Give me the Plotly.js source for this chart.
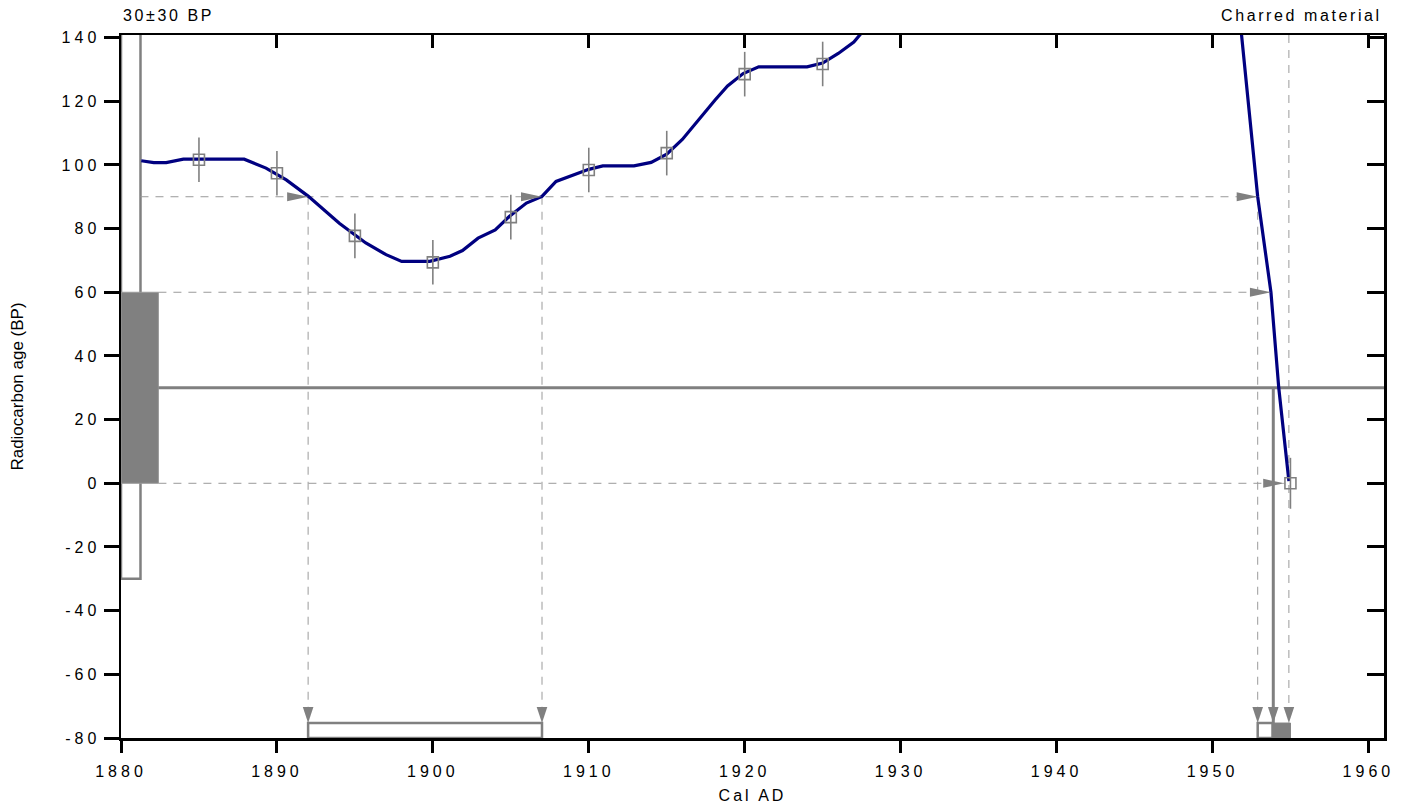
<!DOCTYPE html>
<html>
<head>
<meta charset="utf-8">
<script src="https://cdn.plot.ly/plotly-3.0.1.min.js"></script>
<style>
  html, body { margin: 0; padding: 0; background: #fff; }
  #chart { width: 1421px; height: 806px; }
  .xtick text, .ytick text { letter-spacing: 4px !important; }
  .xtitle { letter-spacing: 3px; }
  .annotation-text { letter-spacing: 2.6px; }
</style>
</head>
<body>
<div id="chart"></div>
<script>
// ---------- data ----------
const xTickVals = [1880, 1890, 1900, 1910, 1920, 1930, 1940, 1950, 1960];
const xTickText = ['1880', '1890', '1900', '1910', '1920', '1930', '1940', '1950', '1960'];
const yTickVals = [-80, -60, -40, -20, 0, 20, 40, 60, 80, 100, 120, 140];
const yTickText = ['-80', '-60', '-40', '-20', '0', '20', '40', '60', '80', '100', '120', '140'];

// calibration curve (Cal AD, radiocarbon BP); null = curve leaves the plotted range
const curveYear = [1881.3, 1882.1, 1882.9, 1884.0, 1887.9, 1889.3, 1890.6, 1892.0, 1894.0, 1895.7,
  1897.0, 1898.0, 1899.8, 1901.1, 1901.9, 1902.9, 1904.0, 1904.9, 1906.0, 1907.0, 1907.9, 1909.0,
  1910.0, 1910.9, 1912.9, 1914.0, 1915.0, 1916.0, 1917.1, 1918.1, 1918.9, 1919.9, 1920.9, 1924.0,
  1925.0, 1926.0, 1927.0, 1927.5, null, 1951.85, 1952.9, 1953.75, 1954.25, 1954.9];
const curveBP = [101.3, 100.7, 100.7, 101.8, 101.8, 99.0, 95.3, 90.2, 81.7, 75.5,
  71.8, 69.7, 69.7, 71.3, 73.1, 77.0, 79.6, 83.8, 88.0, 90.1, 94.8, 96.9,
  98.6, 99.7, 99.7, 100.8, 103.4, 108.0, 114.6, 120.4, 124.8, 128.7, 130.8, 130.8,
  132.0, 135.0, 138.6, 141.5, null, 141.5, 90.0, 60.0, 30.0, 0.7];

// raw calibration data points with 1-sigma errors
const sampleYear = [1885, 1890, 1895, 1900, 1905, 1910, 1915, 1920, 1925, 1955];
const sampleBP   = [101.6, 97.4, 77.7, 69.4, 83.6, 98.4, 103.7, 128.5, 131.7, 0];
const sampleErr  = [7, 7, 7, 7, 7, 7, 7, 7, 7, 8];

// measurement: 30 ± 30 BP
const measMean = 30;
const measSigma = 30;
const measOneSigma = [measMean - measSigma, measMean + measSigma];   // filled bar
const measTwoSigmaOpen = [-30, 150];                                  // open bar
const levelBP = [90, 60, 0];
const levelCross = [[1892, 1907, 1952.9], [1953.75], [1954.6]];
const meanCrossYear = 1953.9;
const sampleDateYear = 1954.9;
const openRanges = [[1892, 1907], [1952.9, 1953.85]];
const filledRanges = [[1953.85, 1955.0]];
const rangeBarTop = -75.3;

// ---------- layout helpers ----------
const X0 = 1880, X1 = 1961, Y0 = -80, Y1 = 140.8;
const GRAY = '#808080', DASHGRAY = '#9a9a9a';
const FONT = 'Liberation Sans, Arial, sans-serif';
const openBarW = 1.25, filledBarW = 2.4;

const shapes = [];
shapes.push({type: 'rect', layer: 'below', xref: 'x', yref: 'y', x0: X0, x1: X0 + openBarW,
  y0: measTwoSigmaOpen[0], y1: measTwoSigmaOpen[1], fillcolor: '#fff', line: {color: GRAY, width: 2.5}});
shapes.push({type: 'rect', layer: 'below', xref: 'x', yref: 'y', x0: X0, x1: X0 + filledBarW,
  y0: measOneSigma[0], y1: measOneSigma[1], fillcolor: GRAY, line: {color: '#9a9a9a', width: 1}});

levelBP.forEach((lv, i) => {
  const start = (lv > measOneSigma[1]) ? X0 + openBarW : X0 + filledBarW;
  const end = Math.max(...levelCross[i]);
  shapes.push({type: 'line', layer: 'below', xref: 'x', yref: 'y', x0: start, x1: end, y0: lv, y1: lv,
    line: {color: DASHGRAY, width: 1, dash: '8px,7px'}});
});
levelCross[0].forEach(cx => {
  shapes.push({type: 'line', layer: 'below', xref: 'x', yref: 'y', x0: cx, x1: cx, y0: levelBP[0], y1: rangeBarTop,
    line: {color: DASHGRAY, width: 1, dash: '8px,7px'}});
});
shapes.push({type: 'line', layer: 'below', xref: 'x', yref: 'y', x0: sampleDateYear, x1: sampleDateYear,
  y0: Y1, y1: rangeBarTop, line: {color: DASHGRAY, width: 1, dash: '8px,7px'}});

shapes.push({type: 'line', layer: 'below', xref: 'x', yref: 'y', x0: X0 + filledBarW, x1: X1, y0: measMean, y1: measMean,
  line: {color: GRAY, width: 3}});
shapes.push({type: 'line', layer: 'below', xref: 'x', yref: 'y', x0: meanCrossYear, x1: meanCrossYear,
  y0: measMean, y1: rangeBarTop, line: {color: GRAY, width: 3}});

openRanges.forEach(r => shapes.push({type: 'rect', layer: 'below', xref: 'x', yref: 'y', x0: r[0], x1: r[1],
  y0: Y0, y1: rangeBarTop, fillcolor: '#fff', line: {color: GRAY, width: 2.5}}));
filledRanges.forEach(r => shapes.push({type: 'rect', layer: 'below', xref: 'x', yref: 'y', x0: r[0], x1: r[1],
  y0: Y0, y1: rangeBarTop, fillcolor: GRAY, line: {color: GRAY, width: 1}}));

function rightArrow(x, y) {
  return {type: 'path', layer: 'above', xref: 'x', yref: 'y', xsizemode: 'pixel', ysizemode: 'pixel',
    xanchor: x, yanchor: y, path: 'M0,0 L-21,4.5 L-21,-4.5 Z', fillcolor: GRAY, line: {width: 0}};
}
function downArrow(x, y) {
  return {type: 'path', layer: 'above', xref: 'x', yref: 'y', xsizemode: 'pixel', ysizemode: 'pixel',
    xanchor: x, yanchor: y, path: 'M0,0 L-5.3,16 L5.3,16 Z', fillcolor: GRAY, line: {width: 0}};
}
levelBP.forEach((lv, i) => levelCross[i].forEach(cx => shapes.push(rightArrow(cx, lv))));
levelCross[0].forEach(cx => shapes.push(downArrow(cx, rangeBarTop)));
shapes.push(downArrow(meanCrossYear, rangeBarTop));
shapes.push(downArrow(sampleDateYear, rangeBarTop));

const traces = [
  {x: curveYear, y: curveBP, type: 'scatter', mode: 'lines', connectgaps: false,
    line: {color: '#000080', width: 3.2}, hoverinfo: 'skip', showlegend: false},
  {x: sampleYear, y: sampleBP, type: 'scatter', mode: 'markers',
    marker: {symbol: 'square-open', size: 11, color: GRAY, line: {width: 1.6, color: GRAY}},
    error_y: {type: 'data', array: sampleErr, visible: true, color: GRAY, thickness: 1.6, width: 0},
    hoverinfo: 'skip', showlegend: false},
  {x: [X0], y: [Y0], xaxis: 'x2', yaxis: 'y2', type: 'scatter', mode: 'markers',
    marker: {opacity: 0}, hoverinfo: 'skip', showlegend: false}
];

const axisCommon = {showgrid: false, zeroline: false, showline: true, linecolor: '#000', linewidth: 2.5,
  tickcolor: '#000', tickwidth: 3, tickmode: 'array', fixedrange: true};

const layout = {
  width: 1421, height: 806,
  margin: {l: 121, r: 37, t: 35, b: 68, pad: 0},
  paper_bgcolor: '#fff', plot_bgcolor: '#fff',
  showlegend: false,
  font: {family: FONT, size: 16, color: '#000'},
  xaxis: Object.assign({}, axisCommon, {range: [X0, X1], tickvals: xTickVals, ticktext: xTickText,
    ticks: 'outside', ticklen: 12, ticklabelstandoff: 5,
    tickfont: {family: FONT, size: 16, color: '#000'},
    title: {text: 'Cal AD', font: {family: FONT, size: 16, color: '#000'}, standoff: 11}}),
  yaxis: Object.assign({}, axisCommon, {range: [Y0, Y1], tickvals: yTickVals, ticktext: yTickText,
    ticks: 'outside', ticklen: 15,
    tickfont: {family: FONT, size: 16, color: '#000'},
    title: {text: 'Radiocarbon age (BP)', font: {family: FONT, size: 17, color: '#000'}, standoff: 34}}),
  xaxis2: Object.assign({}, axisCommon, {overlaying: 'x', side: 'top', range: [X0, X1], tickvals: xTickVals,
    ticks: 'inside', ticklen: 13, showticklabels: false}),
  yaxis2: Object.assign({}, axisCommon, {overlaying: 'y', side: 'right', range: [Y0, Y1], tickvals: yTickVals,
    ticks: 'inside', ticklen: 17, showticklabels: false}),
  shapes: shapes,
  annotations: [
    {text: '30±30 BP', xref: 'paper', yref: 'paper', x: 0, y: 1, xanchor: 'left', yanchor: 'bottom',
      yshift: 9, showarrow: false, font: {family: FONT, size: 16, color: '#000'}},
    {text: 'Charred material', xref: 'paper', yref: 'paper', x: 1, y: 1, xanchor: 'right', yanchor: 'bottom',
      yshift: 9, showarrow: false, font: {family: FONT, size: 16, color: '#000'}}
  ]
};

Plotly.newPlot('chart', traces, layout, {displayModeBar: false, staticPlot: true});
</script>
</body>
</html>
